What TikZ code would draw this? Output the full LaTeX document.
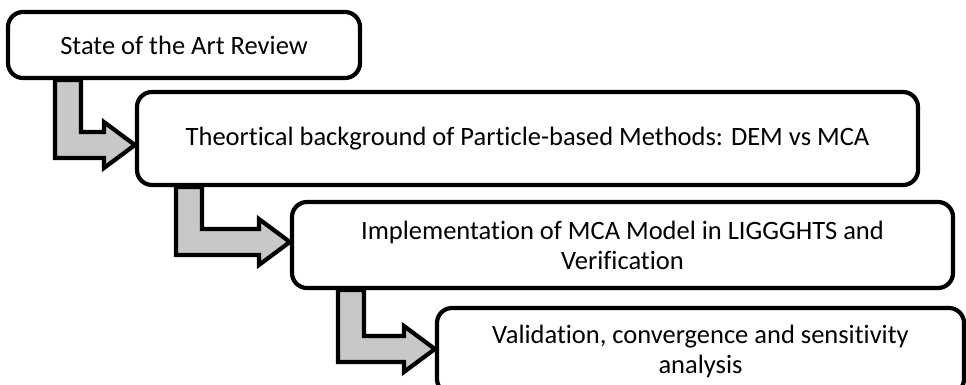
\documentclass[tikz,border=0pt]{standalone}
\usepackage{fontspec}
\setmainfont{Carlito}[Ligatures={NoCommon,NoRequired}]
\usetikzlibrary{calc,backgrounds}
\tikzset{
  stagebox/.style={draw=black, line width=4.2pt, rounded corners=15pt, fill=white,
    align=center, inner sep=0pt, font=\fontsize{26.5}{30}\selectfont},
  blockarrow/.style={draw=black, line width=4.2pt, fill=arrowgray, line join=miter}
}
\definecolor{arrowgray}{RGB}{200,200,200}
\newcommand\elbowarrow[4]{%
  \draw[blockarrow] let \p1=(#1.south west), \p2=($(#2.west)+(0,#4)$) in
    (\x1+#3pt,\y1) -- (\x1+#3pt,\y2-13pt) -- (\x2-31pt,\y2-13pt) -- (\x2-31pt,\y2-23pt)
    -- (\x2,\y2) -- (\x2-31pt,\y2+23pt) -- (\x2-31pt,\y2+13pt)
    -- (\x1+#3pt+26pt,\y2+13pt) -- (\x1+#3pt+26pt,\y1) -- cycle;}
\begin{document}
\begin{tikzpicture}[x=1pt,y=-1pt]
\useasboundingbox (0,0) rectangle (966,385);
\clip (0,0) rectangle (966,385);
\node[stagebox, minimum width=352pt, minimum height=66pt] (b1) at (184,45) {State of the Art Review};
\node[stagebox, minimum width=781pt, minimum height=93pt] (b2) at (527.5,138.5) {Theortical background of Particle-based Methods: DEM vs MCA};
\node[stagebox, minimum width=661pt, minimum height=86pt] (b3) at (622.5,245) {Implementation of MCA Model in LIGGGHTS and\\Verification};
\node[stagebox, minimum width=527pt, minimum height=86pt] (b4) at (700.5,351) {Validation, convergence and sensitivity\\analysis};
\begin{scope}[on background layer]
\elbowarrow{b1}{b2}{49}{6.5}
\elbowarrow{b2}{b3}{41}{-3}
\elbowarrow{b3}{b4}{48}{-2}
\end{scope}
\end{tikzpicture}
\end{document}
